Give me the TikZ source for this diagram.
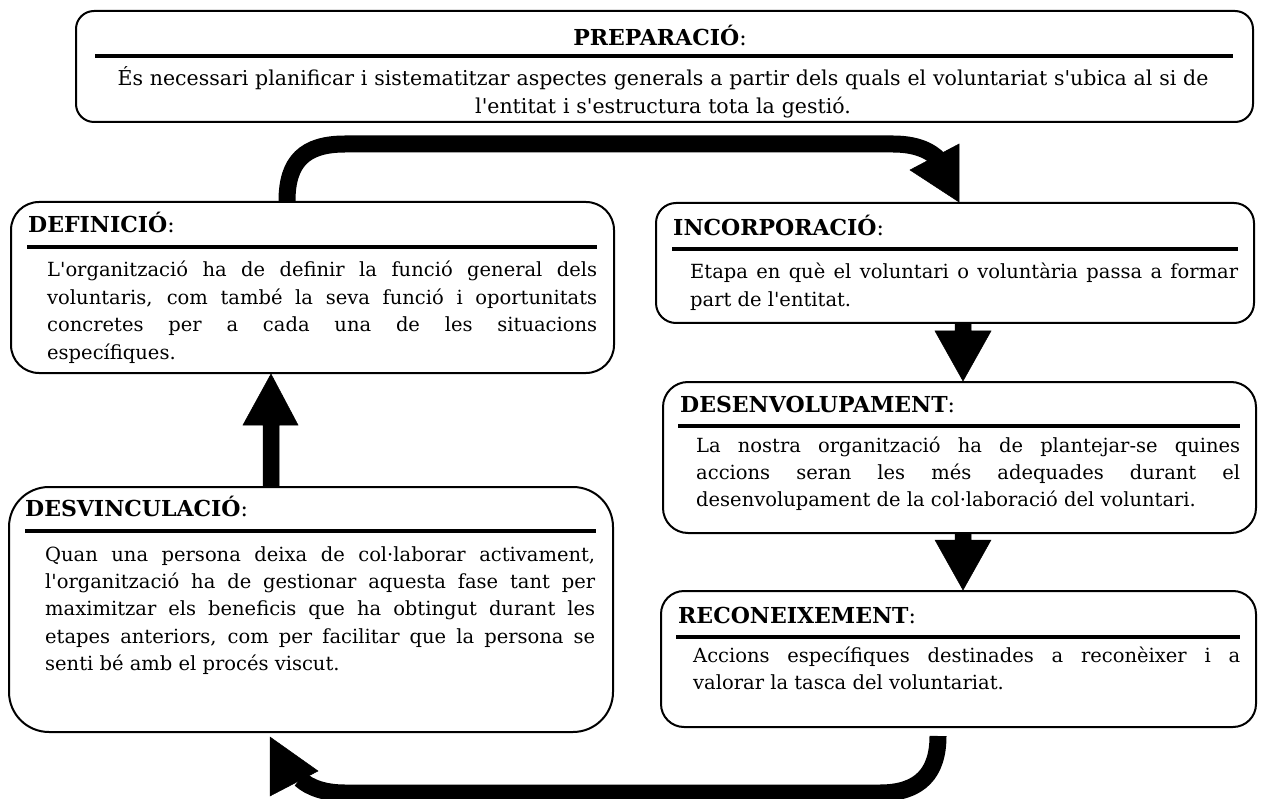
\documentclass[tikz,border=0pt]{standalone}
\usepackage{fontspec}
\setmainfont{DejaVu Serif}[Ligatures=TeXOff]
\usetikzlibrary{calc}
\newcommand\bodysetup{\hyphenpenalty=10000\relax\exhyphenpenalty=10000\relax\tolerance=9999\relax\emergencystretch=20pt\relax}
\begin{document}
\begin{tikzpicture}[x=1pt,y=-1pt,
  box/.style={draw=black, line width=2pt, rounded corners=#1, inner sep=0pt, anchor=north west, fill=white},
  ttl/.style={inner sep=0pt, anchor=base west, font=\fontsize{22}{26}\selectfont},
  bodytxt/.style={inner sep=0pt, anchor=base west, align=justify,
    font=\fontsize{19.5}{27.4}\selectfont\bodysetup},
  hrule/.style={line width=4pt},
  bigarrow/.style={fill=black, draw=black, line width=0.5pt},
  curvearrow/.style={draw=black, line width=17pt}
]
\useasboundingbox (0,0) rectangle (1263,799);

% boxes
\node[box=18pt, minimum width=1177pt, minimum height=111pt] (prep) at (75,10) {};
\node[box=28pt, minimum width=603pt, minimum height=171pt] (def) at (10,201) {};
\node[box=20pt, minimum width=598pt, minimum height=120pt] (inc) at (655,202) {};
\node[box=25pt, minimum width=593pt, minimum height=151pt] (des) at (662,381) {};
\node[box=23pt, minimum width=595pt, minimum height=136pt] (rec) at (660,590) {};
\node[box=40pt, minimum width=604pt, minimum height=245pt] (desv) at (8,486) {};

% PREPARACIO
\node[ttl, anchor=base] (prepT) at (660,46) {\textbf{PREPARACIÓ}:};
\draw[hrule] (95,56) -- (1233,56);
\begin{scope}
\clip[rounded corners=18pt] (prep.north west) rectangle (prep.south east);
\node[bodytxt, align=center, text width=1150pt, anchor=base, font=\fontsize{20.5}{28}\selectfont\bodysetup] (prepB) at (663,86)
 {És necessari planificar i sistematitzar aspectes generals a partir dels quals el voluntariat s'ubica al si de\\ l'entitat i s'estructura tota la gestió.};
\end{scope}

% DEFINICIO
\node[ttl] (defT) at (28,233) {\textbf{DEFINICIÓ}:};
\draw[hrule] (27,247) -- (597,247);
\node[bodytxt, text width=550pt] (defB) at (47,277)
 {L'organització ha de definir la funció general dels\linebreak voluntaris, com també la seva funció i oportunitats\linebreak concretes per a cada una de les situacions\linebreak específiques.};

% INCORPORACIO
\node[ttl] (incT) at (673,236) {\textbf{INCORPORACIÓ}:};
\draw[hrule] (672,249) -- (1238,249);
\node[bodytxt, text width=548pt] (incB) at (690,279)
 {Etapa en què el voluntari o voluntària passa a formar\linebreak part de l'entitat.};

% DESENVOLUPAMENT
\node[ttl] (desT) at (680,412) {\textbf{DESENVOLUPAMENT}:};
\draw[hrule] (678,426) -- (1240,426);
\node[bodytxt, text width=544pt] (desB) at (696,452)
 {La nostra organització ha de plantejar-se quines\linebreak accions seran les més adequades durant el\linebreak desenvolupament de la col·laboració del voluntari.};

% RECONEIXEMENT
\node[ttl] (recT) at (678,623) {\textbf{RECONEIXEMENT}:};
\draw[hrule] (676,637) -- (1240,637);
\node[bodytxt, text width=547pt] (recB) at (693,662)
 {Accions específiques destinades a reconèixer i a\linebreak valorar la tasca del voluntariat.};

% DESVINCULACIO
\node[ttl] (desvT) at (25,516) {\textbf{DESVINCULACIÓ}:};
\draw[hrule] (25,531) -- (596,531);
\node[bodytxt, text width=550pt] (desvB) at (45,561)
 {Quan una persona deixa de col·laborar activament,\linebreak l'organització ha de gestionar aquesta fase tant per\linebreak maximitzar els beneficis que ha obtingut durant les\linebreak etapes anteriors, com per facilitar que la persona se\linebreak senti bé amb el procés viscut.};

% straight block arrows
\coordinate (xr) at (963,0);
\coordinate (xl) at (271,0);
\coordinate (incbot) at (inc.south -| xr);
\coordinate (destop) at (des.north -| xr);
\coordinate (desbot) at (des.south -| xr);
\coordinate (rectop) at (rec.north -| xr);
\coordinate (desvtop) at (desv.north -| xl);
\coordinate (defbot) at (def.south -| xl);

\fill[bigarrow] ($(incbot)+(-8,0)$) -- ($(incbot)+(8,0)$) -- ($(incbot)+(8,7)$) -- ($(incbot)+(28,7)$)
  -- (destop) -- ($(incbot)+(-28,7)$) -- ($(incbot)+(-8,7)$) -- cycle;
\fill[bigarrow] ($(desbot)+(-8,0)$) -- ($(desbot)+(8,0)$) -- ($(desbot)+(8,6)$) -- ($(desbot)+(28,6)$)
  -- (rectop) -- ($(desbot)+(-28,6)$) -- ($(desbot)+(-8,6)$) -- cycle;
\fill[bigarrow] ($(desvtop)+(-8,0)$) -- ($(desvtop)+(8,0)$) -- ($(desvtop)+(8,-61)$) -- ($(desvtop)+(27,-61)$)
  -- (defbot) -- ($(desvtop)+(-28,-61)$) -- ($(desvtop)+(-8,-61)$) -- cycle;

% curved arrows
\coordinate (c1s) at ($(def.north west)+(277,0)$);
\coordinate (c1e) at ($(inc.north west)+(304,0)$);
\draw[curvearrow] (c1s) .. controls ($(c1s)+(0,-40)$) and ($(c1s)+(18,-57)$) .. ($(c1s)+(58,-57)$)
  -- ($(c1e)+(-66,-58)$) .. controls ($(c1e)+(-44,-58)$) and ($(c1e)+(-28,-52)$) .. ($(c1e)+(-18,-40)$);
\fill[bigarrow] ($(c1e)+(0,-58)$) -- ($(c1e)+(-49,-32)$) -- (c1e) -- cycle;

\coordinate (c2s) at ($(rec.south west)+(278,8)$);
\coordinate (c2e) at ($(desv.south west)+(262,4)$);
\draw[curvearrow] (c2s) .. controls ($(c2s)+(0,37)$) and ($(c2s)+(-18,57)$) .. ($(c2s)+(-58,57)$)
  -- ($(c2e)+(75,56)$) .. controls ($(c2e)+(55,56)$) and ($(c2e)+(40,51)$) .. ($(c2e)+(30,42)$);
\fill[bigarrow] ($(c2e)+(0,59)$) -- ($(c2e)+(48,34)$) -- (c2e) -- cycle;
\end{tikzpicture}
\end{document}
